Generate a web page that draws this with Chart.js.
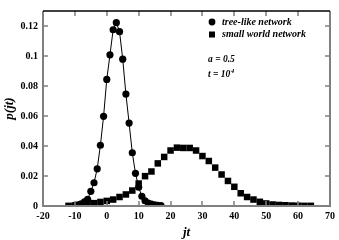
<!DOCTYPE html>
<html>
<head>
<meta charset="utf-8">
<script src="https://cdn.jsdelivr.net/npm/chart.js@4"></script>
<style>
  html, body { margin: 0; padding: 0; background: #fff; }
  #wrap { width: 339px; height: 240px; }
</style>
</head>
<body>
<div id="wrap"><canvas id="chart" width="339" height="240"></canvas></div>
<script>
// tree-like network (circles)
const treeX = [-10, -9, -8, -7, -6, -5, -4, -3, -2, -1, 0, 1, 2, 3, 4, 5, 6, 7, 8, 9, 10, 11, 12, 13, 14, 15, 16, 17];
const treeP = [0.0004, 0.0008, 0.0015, 0.0028, 0.0045, 0.0098, 0.0155, 0.0248, 0.0405, 0.0598, 0.0844, 0.1008, 0.1175, 0.1222, 0.1162, 0.0979, 0.0746, 0.0553, 0.0355, 0.0218, 0.0125, 0.0065, 0.0035, 0.002, 0.0012, 0.0008, 0.0005, 0.0003];

// small world network (squares)
const smallX = [-12, -10, -8, -6, -4, -2, 0, 2, 4, 6, 8, 10, 12, 14, 16, 18, 20, 22, 24, 26, 28, 30, 32, 34, 36, 38, 40, 42, 44, 46, 48, 50, 52, 54, 56, 58, 60, 62, 64];
const smallP = [0.0001, 0.0003, 0.0006, 0.0012, 0.0019, 0.0027, 0.0034, 0.0043, 0.006, 0.0077, 0.0103, 0.015, 0.0199, 0.023, 0.0284, 0.0327, 0.037, 0.0389, 0.0387, 0.0387, 0.037, 0.0333, 0.03, 0.0256, 0.021, 0.0167, 0.0128, 0.0085, 0.006, 0.0043, 0.0028, 0.0017, 0.001, 0.0007, 0.0005, 0.0003, 0.0002, 0.0001, 0.0001];

const xTicks = [-20, -10, 0, 10, 20, 30, 40, 50, 60, 70];
const yTicks = [0, 0.02, 0.04, 0.06, 0.08, 0.1, 0.12];

const serif = '"Liberation Serif", "DejaVu Serif", serif';
const gray = '#808080';

// frame, inward ticks and the text box in the corner
const framePlugin = {
    id: 'frame',
    afterDraw(chart) {
        const ctx = chart.ctx;
        const a = chart.chartArea;
        const xs = chart.scales.x, ys = chart.scales.y;
        ctx.save();
        ctx.lineCap = 'butt';
        // ticks
        ctx.strokeStyle = gray;
        ctx.lineWidth = 1.5;
        xTicks.slice(1, -1).forEach(v => {
            const px = Math.round(xs.getPixelForValue(v));
            ctx.beginPath();
            ctx.moveTo(px, a.bottom); ctx.lineTo(px, a.bottom - 5);
            ctx.moveTo(px, a.top); ctx.lineTo(px, a.top + 5);
            ctx.stroke();
        });
        yTicks.slice(1).forEach(v => {
            const py = Math.round(ys.getPixelForValue(v));
            ctx.beginPath();
            ctx.moveTo(a.left, py); ctx.lineTo(a.left + 5, py);
            ctx.moveTo(a.right, py); ctx.lineTo(a.right - 5, py);
            ctx.stroke();
        });
        // frame
        ctx.lineWidth = 2;
        ctx.strokeStyle = gray;
        ctx.beginPath();
        ctx.moveTo(a.left, a.top); ctx.lineTo(a.left, a.bottom);
        ctx.lineTo(a.right, a.bottom); ctx.lineTo(a.right, a.top);
        ctx.stroke();
        ctx.strokeStyle = '#000';
        ctx.lineWidth = 1.5;
        ctx.beginPath();
        ctx.moveTo(a.left, a.top); ctx.lineTo(a.right, a.top);
        ctx.stroke();

        // legend
        ctx.fillStyle = '#000';
        ctx.beginPath();
        ctx.arc(212, 22, 3.4, 0, Math.PI * 2);
        ctx.fill();
        ctx.fillRect(209, 31.5, 6, 6);
        ctx.font = 'italic bold 10px ' + serif;
        ctx.textBaseline = 'middle';
        ctx.textAlign = 'left';
        ctx.fillText('tree-like network', 222, 22);
        ctx.fillText('small world network', 222, 34.5);

        ctx.font = 'italic bold 9.5px ' + serif;
        ctx.fillText('a = 0.5', 208, 60);
        ctx.fillText('t = 10', 208, 75);
        const w = ctx.measureText('t = 10').width;
        ctx.font = 'italic bold 7px ' + serif;
        ctx.fillText('4', 208 + w + 0.5, 71);
        ctx.restore();
    }
};

new Chart(document.getElementById('chart').getContext('2d'), {
    type: 'scatter',
    data: {
        datasets: [{
            label: 'tree-like network',
            data: treeX.map((x, i) => ({ x: x, y: treeP[i] })),
            showLine: true,
            borderColor: '#000',
            backgroundColor: '#000',
            borderWidth: 1,
            pointStyle: 'circle',
            pointRadius: 3.6,
            pointBorderWidth: 0
        }, {
            label: 'small world network',
            data: smallX.map((x, i) => ({ x: x, y: smallP[i] })),
            showLine: false,
            borderColor: '#000',
            backgroundColor: '#000',
            pointStyle: 'rect',
            pointRadius: 4.6,
            pointBorderWidth: 0
        }]
    },
    options: {
        responsive: false,
        animation: false,
        layout: { padding: { top: 4, right: 7, left: 0, bottom: 0 } },
        plugins: {
            legend: { display: false },
            tooltip: { enabled: false }
        },
        scales: {
            x: {
                type: 'linear',
                min: -20,
                max: 70,
                afterBuildTicks: s => { s.ticks = xTicks.map(v => ({ value: v })); },
                afterFit: s => { s.height = 34; },
                grid: { display: false, drawTicks: false },
                border: { display: false },
                ticks: {
                    padding: 4,
                    color: '#000',
                    font: { family: serif, size: 10, weight: 'bold' }
                },
                title: {
                    display: true,
                    text: 'jt',
                    color: '#000',
                    padding: { top: 0, bottom: 0 },
                    font: { family: serif, size: 13, weight: 'bold', style: 'italic' }
                }
            },
            y: {
                min: 0,
                max: 0.13,
                afterBuildTicks: s => { s.ticks = yTicks.map(v => ({ value: v })); },
                afterFit: s => { s.width = 43; },
                grid: { display: false, drawTicks: false },
                border: { display: false },
                ticks: {
                    padding: 5,
                    color: '#000',
                    font: { family: serif, size: 10, weight: 'bold' },
                    callback: v => String(Number(v.toFixed(2)))
                },
                title: {
                    display: true,
                    text: 'p(jt)',
                    color: '#000',
                    padding: { top: 2, bottom: 0 },
                    font: { family: serif, size: 13, weight: 'bold', style: 'italic' }
                }
            }
        }
    },
    plugins: [framePlugin]
});
</script>
</body>
</html>
